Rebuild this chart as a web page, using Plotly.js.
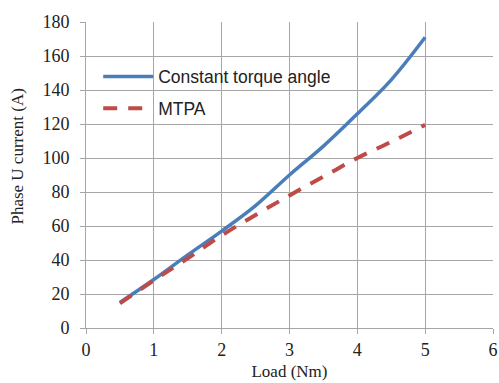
<!DOCTYPE html>
<html><head><meta charset="utf-8">
<script src="https://cdn.plot.ly/plotly-3.0.1.min.js"></script>
<style>html,body{margin:0;padding:0;background:#fff}</style>
</head><body><div id="chart" style="width:499px;height:383px"></div>
<script>
const loadNm = [0.5, 1, 1.5, 2, 2.5, 3, 3.5, 4, 4.5, 5];
const constantTorqueAngle = [15, 28.5, 43, 57, 72, 90, 107, 126, 146, 171];
const mtpa = [14.5, 28, 41, 54.5, 66.5, 78, 89, 100, 109.5, 119.5];
const xTicks = [0, 1, 2, 3, 4, 5, 6];
const yTicks = [0, 20, 40, 60, 80, 100, 120, 140, 160, 180];
const xTitle = 'Load (Nm)';
const yTitle = 'Phase U current (A)';

const serif = 'Liberation Serif, Times New Roman, serif';
const traces = [
  {x: loadNm, y: constantTorqueAngle, name: 'Constant torque angle', mode: 'lines', legendgroup: 'a',
   line: {color: '#4a7ebb', width: 3.5, shape: 'spline'}},
  {x: loadNm, y: mtpa, name: 'MTPA', mode: 'lines', legendgroup: 'b',
   line: {color: '#be4b48', width: 4, dash: '14px,11px', shape: 'spline'}}
];
const axisCommon = {
  showgrid: true, gridcolor: '#a6a6a6', gridwidth: 1,
  showline: true, linecolor: '#a6a6a6', linewidth: 1,
  ticks: 'outside', ticklen: 5, tickcolor: '#a6a6a6',
  zeroline: false,
  tickfont: {family: serif, size: 18, color: '#222'}
};
const layout = {
  width: 499, height: 383,
  margin: {l: 86, r: 6, t: 22, b: 55},
  paper_bgcolor: '#fff', plot_bgcolor: '#fff',
  showlegend: true,
  legend: {x: 0.03, y: 0.88, xanchor: 'left', yanchor: 'top', bgcolor: 'rgba(0,0,0,0)',
    itemwidth: 50, traceorder: 'grouped', tracegroupgap: 6,
    font: {family: 'Liberation Sans, Arial, sans-serif', size: 17.5, color: '#222'}},
  xaxis: Object.assign({}, axisCommon, {range: [0, 6], tickvals: xTicks,
    title: {text: xTitle, standoff: 6, font: {family: serif, size: 17, color: '#222'}}}),
  yaxis: Object.assign({}, axisCommon, {range: [0, 180], tickvals: yTicks, ticklabelstandoff: 7}),
  annotations: [{text: yTitle, xref: 'paper', yref: 'paper', x: -0.168, y: 0.559,
    xanchor: 'center', yanchor: 'middle', textangle: -90, showarrow: false,
    font: {family: serif, size: 17, color: '#222'}}]
};
Plotly.newPlot('chart', traces, layout, {displayModeBar: false, staticPlot: true});
</script></body></html>
